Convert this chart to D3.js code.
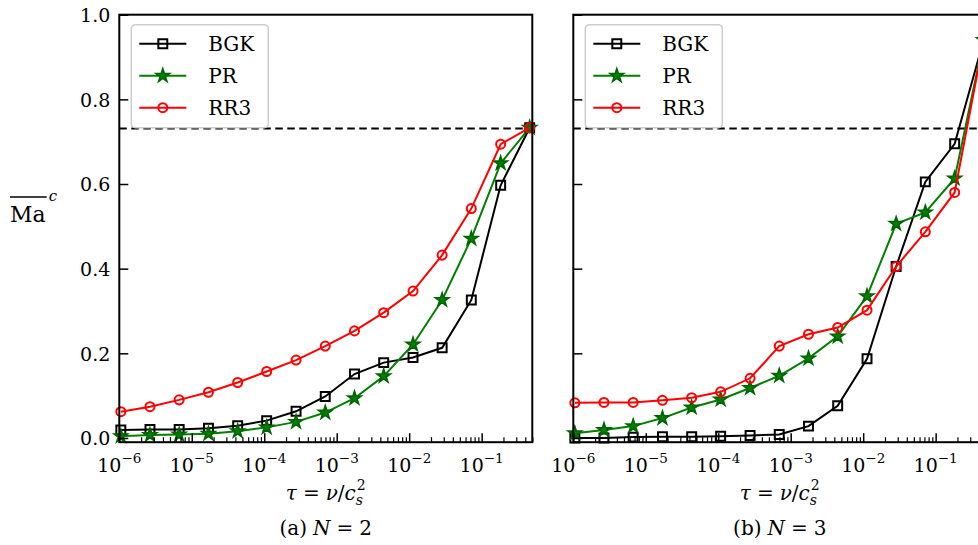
<!DOCTYPE html>
<html><head><meta charset="utf-8">
<script src="https://cdn.jsdelivr.net/npm/d3@7"></script>
<style>body{margin:0;background:#fff} svg{display:block} text{font-family:"DejaVu Serif",serif;fill:#000}</style>
</head><body><svg id="c" width="978" height="545"></svg>
<script>
// ---- data ----
const tau = [1.05e-6, 2.65e-6, 6.7e-6, 1.7e-5, 4.3e-5, 1.08e-4, 2.75e-4, 6.95e-4, 1.76e-3, 4.45e-3, 1.13e-2, 2.85e-2, 7.2e-2, 0.183, 0.46];
const bgkN2 = [0.019, 0.020, 0.020, 0.023, 0.029, 0.041, 0.063, 0.098, 0.151, 0.178, 0.190, 0.213, 0.326, 0.597, 0.733];
const prN2  = [0.004, 0.007, 0.008, 0.010, 0.016, 0.025, 0.038, 0.060, 0.094, 0.146, 0.221, 0.326, 0.471, 0.649, 0.733];
const rr3N2 = [0.062, 0.074, 0.090, 0.108, 0.131, 0.157, 0.184, 0.217, 0.253, 0.296, 0.347, 0.432, 0.542, 0.694, 0.733];
const bgkN3 = [0.000, 0.000, 0.002, 0.003, 0.003, 0.004, 0.006, 0.008, 0.028, 0.076, 0.187, 0.405, 0.605, 0.695, 0.940];
const prN3  = [0.011, 0.019, 0.028, 0.047, 0.072, 0.091, 0.118, 0.147, 0.188, 0.240, 0.335, 0.506, 0.533, 0.613, 0.940];
const rr3N3 = [0.083, 0.084, 0.084, 0.089, 0.095, 0.109, 0.141, 0.217, 0.245, 0.261, 0.302, 0.405, 0.487, 0.580, 0.940];
const seriesNames = ["BGK", "PR", "RR3"];
const seriesColors = ["#000000", "#008000", "#ff0000"];
const refLevel = 0.731;
const yTicks = [0.0, 0.2, 0.4, 0.6, 0.8, 1.0];
const xMajor = [1e-6, 1e-5, 1e-4, 1e-3, 1e-2, 1e-1];
const xExpLabels = ["\u22126", "\u22125", "\u22124", "\u22123", "\u22122", "\u22121"];
const captions = [["(a)", "2"], ["(b)", "3"]];

// ---- layout ----
const FONT = "DejaVu Serif";
const svg = d3.select("#c");
const W = 413, plotTop = 14.7;
const x = d3.scaleLog().domain([1e-6, 0.5]).range([0, W]);
const y = d3.scaleLinear().domain([-0.01, 1.0]).range([plotTop + 427.5, plotTop]);
const xMinor = [];
for (let e = -6; e <= -1; e++) for (let m = 2; m <= 9; m++) { const v = m * Math.pow(10, e); if (v <= 0.5) xMinor.push(v); }
const symbols = [d3.symbolSquare, d3.symbolStar, d3.symbolCircle];
const sizes = [80, 56, 64];

function marker(sel, i) {
  sel.attr("d", d3.symbol(symbols[i], sizes[i]))
    .attr("fill", i === 1 ? seriesColors[i] : "none")
    .attr("stroke", i === 1 ? "#006400" : seriesColors[i])
    .attr("stroke-width", i === 1 ? 1.6 : 2);
}

function panel(ox, data, showY, cap) {
  const g = svg.append("g").attr("transform", `translate(${ox},0)`);
  g.append("line").attr("x1", 0).attr("x2", W).attr("y1", y(refLevel)).attr("y2", y(refLevel))
    .attr("stroke", "#000").attr("stroke-width", 2).attr("stroke-dasharray", "7.5,4.5");
  data.forEach((vals, i) => {
    const pts = tau.map((t, j) => [t, vals[j]]);
    g.append("path").datum(pts)
      .attr("d", d3.line().x(d => x(d[0])).y(d => y(d[1])))
      .attr("fill", "none").attr("stroke", seriesColors[i]).attr("stroke-width", 2);
    g.selectAll(null).data(pts).enter().append("path")
      .attr("transform", d => `translate(${x(d[0])},${y(d[1])})`)
      .call(marker, i);
  });
  const bottom = y(-0.01);
  const ax = g.append("g").attr("transform", `translate(0,${bottom})`)
    .call(d3.axisBottom(x).tickValues(xMajor).tickSize(-9).tickFormat(() => ""));
  ax.select(".domain").remove();
  ax.selectAll(".tick line").attr("stroke", "#000").attr("stroke-width", 1.5);
  ax.selectAll(".tick text").remove();
  xMajor.forEach((v, i) => {
    const t = g.append("text").attr("x", x(v)).attr("y", bottom + 30).attr("text-anchor", "middle")
      .attr("font-family", FONT).attr("font-size", 19);
    t.append("tspan").text("10");
    t.append("tspan").attr("dy", -9).attr("font-size", 13.5).text(xExpLabels[i]);
  });
  const axm = g.append("g").attr("transform", `translate(0,${bottom})`)
    .call(d3.axisBottom(x).tickValues(xMinor).tickSize(-5).tickFormat(() => ""));
  axm.select(".domain").remove();
  axm.selectAll(".tick line").attr("stroke", "#000").attr("stroke-width", 1.2);
  const ay = g.append("g").call(d3.axisLeft(y).tickValues(yTicks).tickSize(-9).tickFormat(d3.format(".1f")));
  ay.select(".domain").remove();
  ay.selectAll(".tick line").attr("stroke", "#000").attr("stroke-width", 1.5);
  if (showY) ay.selectAll(".tick text").attr("x", -9).attr("dy", "0.36em").attr("font-size", 19).attr("font-family", FONT).attr("fill", "#000");
  else ay.selectAll(".tick text").remove();
  g.append("rect").attr("x", 0).attr("y", plotTop).attr("width", W).attr("height", bottom - plotTop)
    .attr("fill", "none").attr("stroke", "#000").attr("stroke-width", 2);
  // legend
  const lg = g.append("g").attr("transform", `translate(12,${plotTop + 10})`);
  lg.append("rect").attr("width", 137).attr("height", 103).attr("rx", 4)
    .attr("fill", "#fff").attr("fill-opacity", 0.8).attr("stroke", "#cccccc").attr("stroke-width", 1.5);
  seriesNames.forEach((n, i) => {
    const ly = 19 + i * 32;
    lg.append("line").attr("x1", 8).attr("x2", 55).attr("y1", ly).attr("y2", ly)
      .attr("stroke", seriesColors[i]).attr("stroke-width", 2);
    lg.append("path").attr("transform", `translate(31.5,${ly})`).call(marker, i);
    lg.append("text").attr("x", 77).attr("y", ly + 7).attr("font-family", FONT).attr("font-size", 20).text(n);
  });
  // x label  tau = nu / c_s^2
  const xl = g.append("g");
  const xt = xl.append("text").attr("x", 0).attr("y", 500).attr("font-family", FONT).attr("font-size", 20);
  xt.append("tspan").attr("font-style", "italic").text("\u03c4");
  xt.append("tspan").attr("dx", 6).text("=");
  xt.append("tspan").attr("dx", 6).attr("font-style", "italic").text("\u03bd");
  xt.append("tspan").text("/");
  xt.append("tspan").attr("font-style", "italic").text("c");
  const w0 = xt.node().getComputedTextLength() + 12;
  xl.append("text").attr("x", w0 + 1).attr("y", 490).attr("font-family", FONT).attr("font-size", 14).text("2");
  xl.append("text").attr("x", w0).attr("y", 505).attr("font-family", FONT).attr("font-size", 14).attr("font-style", "italic").text("s");
  const wTot = w0 + 10;
  xl.attr("transform", `translate(${W / 2 - wTot / 2},0)`);
  // caption
  const cp = g.append("text").attr("x", W / 2).attr("y", 535).attr("text-anchor", "middle")
    .attr("font-family", FONT).attr("font-size", 20);
  cp.append("tspan").text(cap[0]);
  cp.append("tspan").attr("dx", 6).attr("font-style", "italic").text("N");
  cp.append("tspan").attr("dx", 6).text("=");
  cp.append("tspan").attr("dx", 6).text(cap[1]);
}

panel(119.3, [bgkN2, prN2, rr3N2], true, captions[0]);
panel(573.3, [bgkN3, prN3, rr3N3], false, captions[1]);

// y label: overline Ma with superscript c
const yl = svg.append("g");
const ma = yl.append("text").attr("x", 10).attr("y", 222).attr("font-family", FONT).attr("font-size", 22).text("Ma");
const mw = ma.node().getComputedTextLength();
yl.append("line").attr("x1", 10).attr("x2", 10 + mw + 1).attr("y1", 197).attr("y2", 197).attr("stroke", "#000").attr("stroke-width", 1.3);
yl.append("text").attr("x", 10 + mw + 3).attr("y", 201).attr("font-family", FONT).attr("font-size", 15).attr("font-style", "italic").text("c");
</script></body></html>
